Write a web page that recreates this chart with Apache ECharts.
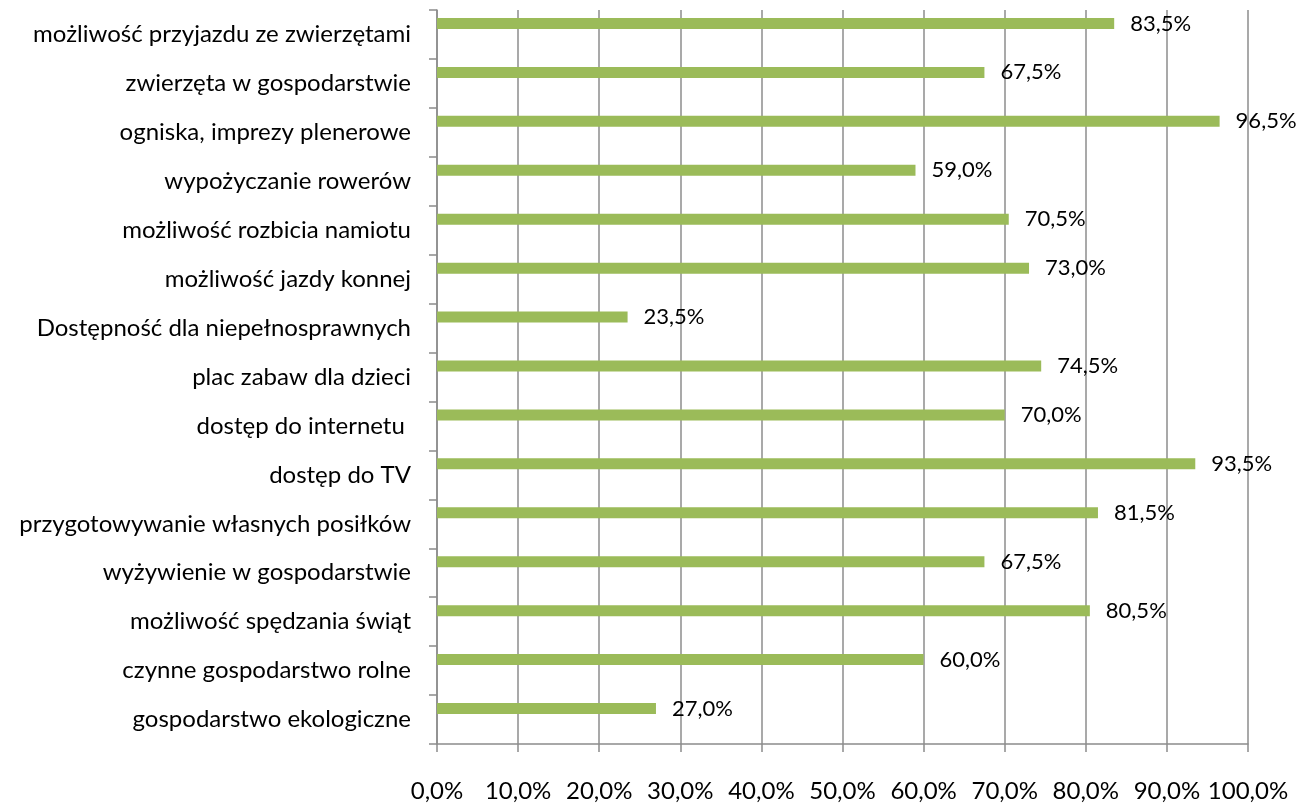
<!DOCTYPE html>
<html>
<head>
<meta charset="utf-8">
<script src="https://cdn.jsdelivr.net/npm/echarts@6/dist/echarts.min.js"></script>
<style>
  html, body { margin: 0; padding: 0; background: #fff; }
  #chart { width: 1304px; height: 803px; }
</style>
</head>
<body>
<div id="chart"></div>
<script>
// categories, top to bottom as in the picture
var categories = [
  "możliwość przyjazdu ze zwierzętami",
  "zwierzęta w gospodarstwie",
  "ogniska, imprezy plenerowe",
  "wypożyczanie rowerów",
  "możliwość rozbicia namiotu",
  "możliwość jazdy konnej",
  "Dostępność dla niepełnosprawnych",
  "plac zabaw dla dzieci",
  "dostęp do internetu ",
  "dostęp do TV",
  "przygotowywanie własnych posiłków",
  "wyżywienie w gospodarstwie",
  "możliwość spędzania świąt",
  "czynne gospodarstwo rolne",
  "gospodarstwo ekologiczne"
];
var values = [83.5, 67.5, 96.5, 59.0, 70.5, 73.0, 23.5, 74.5, 70.0, 93.5, 81.5, 67.5, 80.5, 60.0, 27.0];
// second (empty) series, only keeps the slot like in the original
var emptyValues = categories.map(function () { return null; });

var fmt = function (v) {
  return v.toFixed(1).replace(".", ",") + "%";
};

var chart = echarts.init(document.getElementById("chart"));
var gray = "#8c8c8c";
var font = "Lato";

chart.setOption({
  backgroundColor: "#fff",
  animation: false,
  grid: { left: 437, right: 56, top: 10, bottom: 54, containLabel: false },
  xAxis: {
    type: "value",
    min: 0,
    max: 100,
    interval: 10,
    axisLine: { show: true, lineStyle: { color: gray, width: 1.5 } },
    axisTick: { show: true, length: 8, lineStyle: { color: gray, width: 1.5 } },
    splitLine: { show: true, lineStyle: { color: gray, width: 1.5 } },
    axisLabel: {
      margin: 35,
      color: "#000",
      fontFamily: font,
      fontSize: 24,
      formatter: function (v) { return fmt(v); }
    }
  },
  yAxis: {
    type: "category",
    inverse: true,
    data: categories,
    axisLine: { show: true, lineStyle: { color: gray, width: 1.5 } },
    axisTick: { show: true, length: 8, lineStyle: { color: gray, width: 1.5 } },
    axisLabel: {
      margin: 26,
      color: "#000",
      fontFamily: font,
      fontSize: 24
    }
  },
  series: [
    {
      type: "bar",
      data: values,
      barWidth: 11,
      barGap: "100%",
      itemStyle: { color: "#9bbb59" },
      label: {
        show: true,
        position: "right",
        distance: 16,
        color: "#000",
        fontFamily: font,
        fontSize: 22,
        formatter: function (p) { return fmt(p.value); }
      }
    },
    {
      type: "bar",
      data: emptyValues,
      barWidth: 11,
      barGap: "100%"
    }
  ]
});
</script>
</body>
</html>
